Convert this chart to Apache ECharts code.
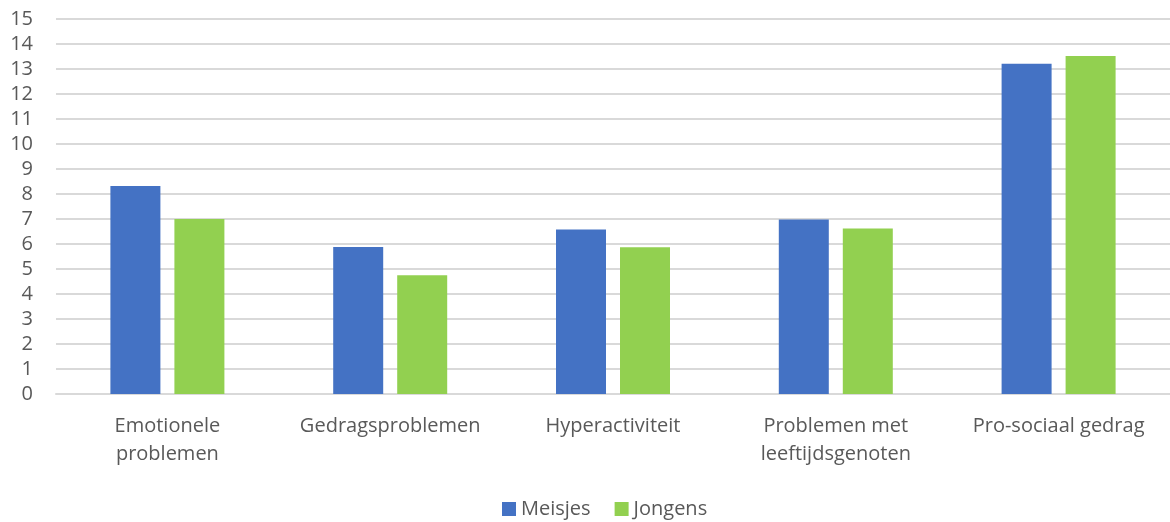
<!DOCTYPE html>
<html><head><meta charset="utf-8">
<script src="https://cdn.jsdelivr.net/npm/echarts@6/dist/echarts.min.js"></script>
<style>html,body{margin:0;padding:0;background:#fff}#c{width:1170px;height:522px}</style>
</head><body><div id="c"></div>
<script>
const categories = ["Emotionele\nproblemen", "Gedragsproblemen", "Hyperactiviteit", "Problemen met\nleeftijdsgenoten", "Pro-sociaal gedrag"];
const meisjes = [8.32, 5.88, 6.58, 6.98, 13.21];
const jongens = [7.0, 4.75, 5.87, 6.62, 13.52];
const yTicks = { min: 0, max: 15, interval: 1 };
const font = "'Open Sans', sans-serif";
const chart = echarts.init(document.getElementById('c'), null, { renderer: 'canvas' });
chart.setOption({
  animation: false,
  grid: { left: 56, right: -4, top: 19, bottom: 128, containLabel: false },
  legend: {
    top: 494, left: 497, itemWidth: 14, itemHeight: 14, itemGap: 24,
    icon: 'rect',
    textStyle: { fontFamily: font, fontSize: 20, color: '#595959', padding: [0, 0, 0, 0] },
    data: ['Meisjes', 'Jongens']
  },
  xAxis: {
    type: 'category', data: categories,
    axisLine: { show: true, lineStyle: { color: '#d9d9d9', width: 2 } },
    axisTick: { show: false },
    axisLabel: { interval: 0, margin: 18, fontFamily: font, fontSize: 20, color: '#595959', lineHeight: 28 }
  },
  yAxis: {
    type: 'value', min: yTicks.min, max: yTicks.max, interval: yTicks.interval,
    axisLine: { show: false }, axisTick: { show: false },
    splitLine: { lineStyle: { color: '#d9d9d9', width: 2 } },
    axisLabel: { margin: 23, fontFamily: font, fontSize: 20, color: '#595959' }
  },
  series: [
    { name: 'Meisjes', type: 'bar', data: meisjes, barWidth: 50, barGap: '28%', itemStyle: { color: '#4472c4' } },
    { name: 'Jongens', type: 'bar', data: jongens, barWidth: 50, itemStyle: { color: '#92d050' } }
  ]
});
</script></body></html>
